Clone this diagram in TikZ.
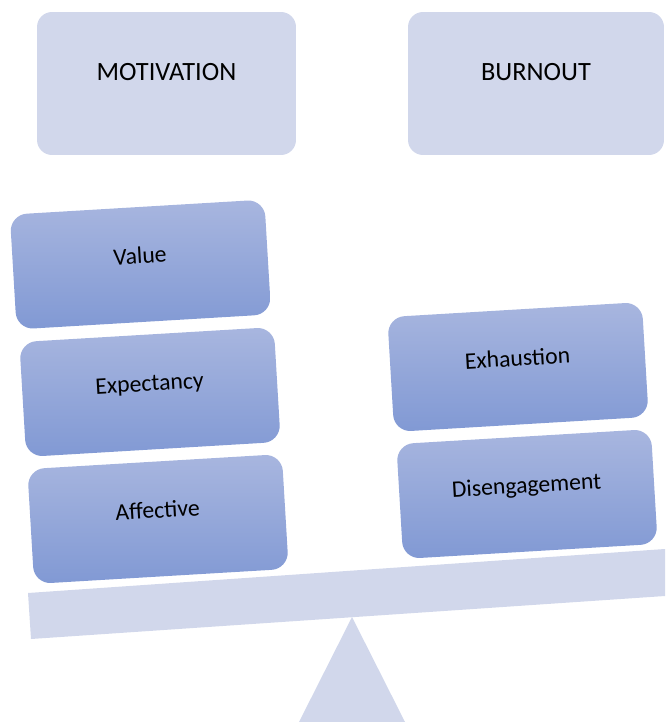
\documentclass[tikz,border=0pt]{standalone}
\usepackage{fontspec}
\setmainfont{Carlito}
\definecolor{lavlight}{HTML}{D1D7EB}
\definecolor{bluetop}{HTML}{A8B6DF}
\definecolor{bluebot}{HTML}{8199D4}

\begin{document}
\begin{tikzpicture}[x=0.02cm,y=-0.02cm,
  headbox/.style={fill=lavlight,rounded corners=0.3cm,inner sep=0pt,minimum height=2.86cm,
    text height=1.37cm,text depth=1.49cm,font=\fontsize{15}{18}\selectfont},
  factor/.style={top color=bluetop,bottom color=bluebot,rounded corners=0.34cm,inner sep=0pt,
    minimum width=5.1cm,minimum height=2.3cm,text height=1.13cm,text depth=1.17cm,
    rotate=3.4,font=\fontsize{13.5}{16}\selectfont}]
\useasboundingbox (0,0) rectangle (665,722);

  \fill[lavlight] (28,593)--(31,639)--(665,596)--(665,549)--cycle;
  \fill[lavlight] (352,617)--(405,722)--(299,722)--cycle;

  \node[headbox,minimum width=5.18cm] (motiv) at (166.5,83.5) {MOTIVATION};
  \node[headbox,minimum width=5.12cm] (burnout) at (536,83.5) {BURNOUT};

  \node[factor] (value) at (140.5,264.5) {Value};
  \node[factor] (expect) at (150,392) {Expectancy};
  \node[factor] (affect) at (158,519) {Affective};

  \node[factor] (exhaust) at (518,367) {Exhaustion};
  \node[factor] (diseng) at (527,494) {Disengagement};
\end{tikzpicture}
\end{document}
